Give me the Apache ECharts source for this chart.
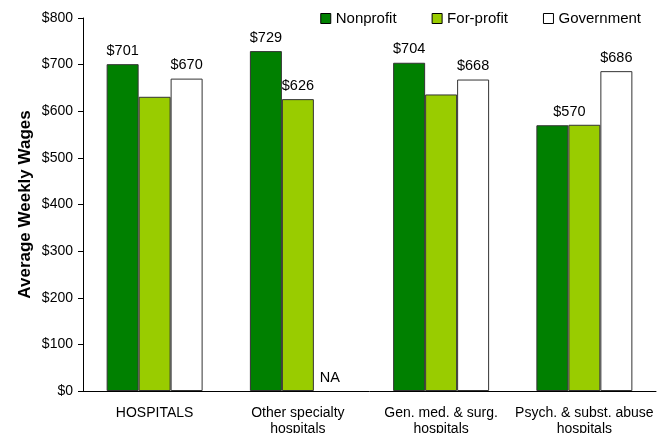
<!DOCTYPE html>
<html><head><meta charset="utf-8">
<script src="https://cdn.jsdelivr.net/npm/echarts@6/dist/echarts.min.js"></script>
<style>html,body{margin:0;padding:0;background:#fff}#c{width:662px;height:433px}</style>
</head><body><div id="c"></div>
<script>
const categories = ['HOSPITALS', 'Other specialty\nhospitals', 'Gen. med. & surg.\nhospitals', 'Psych. & subst. abuse\nhospitals'];
const nonprofit = [701, 729, 704, 570];
const forprofit = [631, 626, 636, 571];
const government = [670, null, 668, 686];
const yTicks = [0, 100, 200, 300, 400, 500, 600, 700, 800];

const font = 'Arial, "Liberation Sans", sans-serif';
const lbl = {show: true, position: 'top', distance: 6, fontSize: 14.5, color: '#000', fontFamily: font, formatter: p => '$' + p.value};
const border = {borderColor: '#333', borderWidth: 1};

const npData = nonprofit.map((v, i) => i === 3 ? {value: v, label: {offset: [17, 0]}} : v);
const fpData = forprofit.map((v, i) => i === 1 ? {value: v, label: {show: true}} : v);
const gvData = government.map(v => v === null ? {value: 0, itemStyle: {borderWidth: 0}, label: {formatter: 'NA', distance: 6}} : v);

const chart = echarts.init(document.getElementById('c'));
chart.setOption({
  animation: false,
  textStyle: {fontFamily: font},
  grid: {left: 83, right: 6, top: 18, bottom: 42, containLabel: false, outerBoundsMode: 'none'},
  legend: {
    top: 6, right: 16, itemWidth: 10, itemHeight: 10, itemGap: 35,
    textStyle: {fontSize: 15, color: '#000', fontFamily: font},
    data: [
      {name: 'Nonprofit', icon: 'rect', itemStyle: {borderColor: '#000', borderWidth: 1}},
      {name: 'For-profit', icon: 'rect', itemStyle: {borderColor: '#000', borderWidth: 1}},
      {name: 'Government', icon: 'rect', itemStyle: {borderColor: '#000', borderWidth: 1}}
    ]
  },
  xAxis: {
    type: 'category', data: categories,
    axisLine: {lineStyle: {color: '#000'}},
    axisTick: {length: 5, lineStyle: {color: '#000'}},
    axisLabel: {fontSize: 14, color: '#000', lineHeight: 16, margin: 14, interval: 0}
  },
  yAxis: {
    type: 'value', min: 0, max: 800, interval: 100,
    name: 'Average Weekly Wages', nameLocation: 'middle', nameGap: 49, nameMoveOverlap: false,
    nameTextStyle: {fontSize: 17, fontWeight: 'bold', color: '#000', fontFamily: font},
    axisLine: {show: true, lineStyle: {color: '#000'}},
    axisTick: {show: true, length: 5, lineStyle: {color: '#000'}},
    splitLine: {show: false},
    axisLabel: {fontSize: 14, color: '#000', margin: 10, formatter: v => yTicks.includes(v) ? '$' + v : ''}
  },
  series: [
    {name: 'Nonprofit', type: 'bar', data: npData, barGap: '0%', barCategoryGap: '33%',
     itemStyle: Object.assign({color: '#008000'}, border), label: lbl},
    {name: 'For-profit', type: 'bar', data: fpData,
     itemStyle: Object.assign({color: '#99CC00'}, border), label: Object.assign({}, lbl, {show: false})},
    {name: 'Government', type: 'bar', data: gvData,
     itemStyle: Object.assign({color: '#FFFFFF'}, border), label: lbl}
  ]
});
</script></body></html>
